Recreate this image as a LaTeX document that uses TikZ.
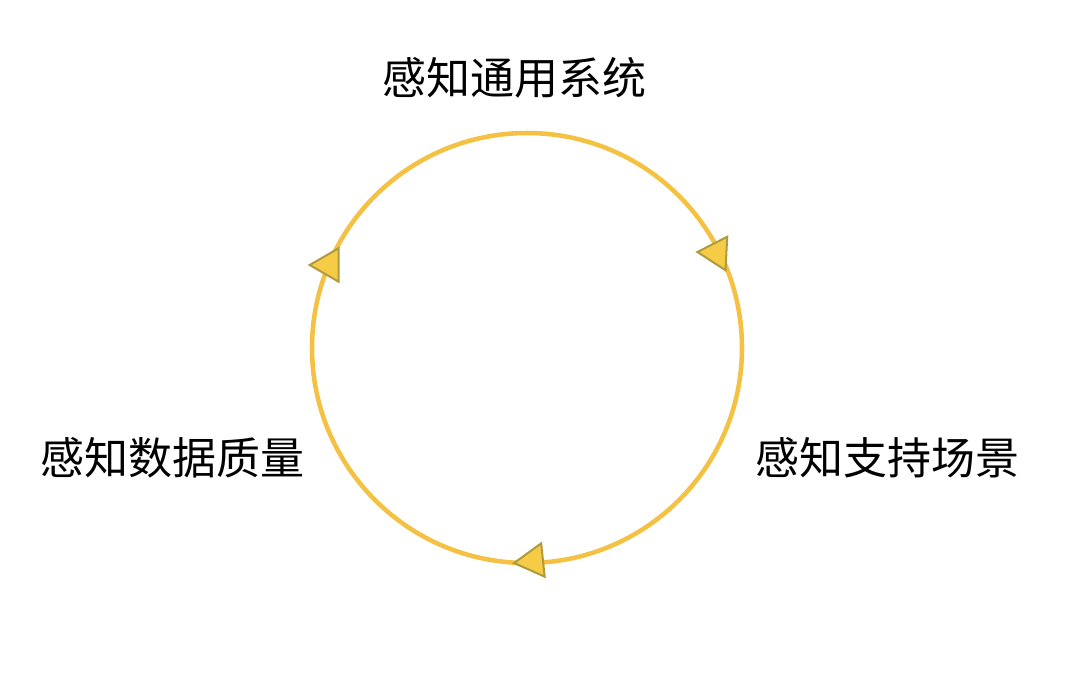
\documentclass[tikz,border=0pt]{standalone}
\usepackage{fontspec}
\newfontfamily\cjk{Noto Sans CJK SC}
\usetikzlibrary{shapes.geometric}

\definecolor{ringyellow}{HTML}{F4C142}
\definecolor{markfill}{HTML}{F6CB45}
\definecolor{markedge}{HTML}{B09A3C}

\begin{document}
\begin{tikzpicture}[
    x=0.75pt, y=-0.75pt,
    stage/.style={
        font=\cjk\fontsize{33}{39}\selectfont,
        inner sep=0pt
    },
    pointer/.style={
        regular polygon,
        regular polygon sides=3,
        draw=markedge,
        fill=markfill,
        line width=1.5pt,
        minimum size=29pt,
        inner sep=0pt
    }
]
\useasboundingbox (0,0) rectangle (1080,692);

% Ring
\coordinate (C) at (527,348);
\draw[ringyellow, line width=3.4pt] (C) circle[radius=161.25pt];

% Direction markers
\node[pointer, rotate=87] (M1) at (716.7,253) {};
\node[pointer, rotate=96] (M2) at (533.3,561) {};
\node[pointer, rotate=90] (M3) at (329,265) {};

% Stage labels
\node[stage] (top)   at (514,78)  {感知通用系统};
\node[stage] (left)  at (172,458) {感知数据质量};
\node[stage] (right) at (887,458) {感知支持场景};

\end{tikzpicture}
\end{document}
